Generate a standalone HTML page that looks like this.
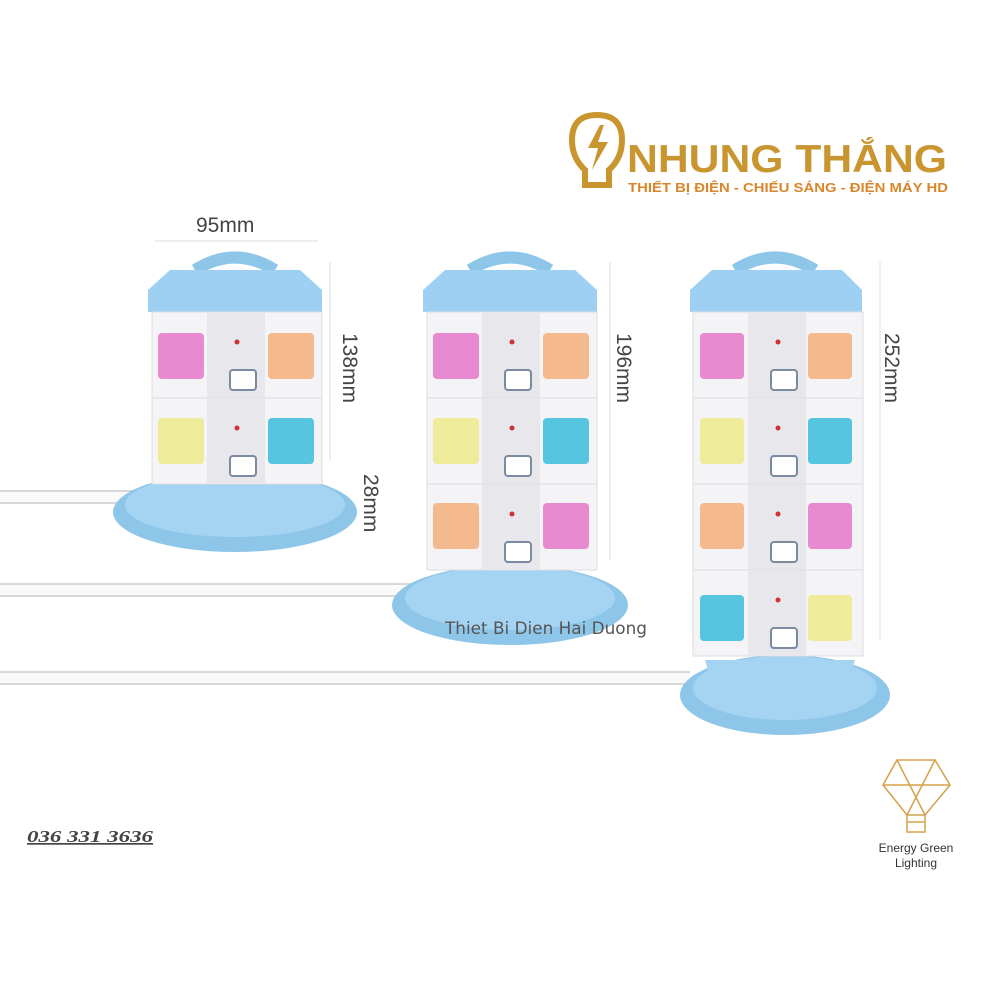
<!DOCTYPE html>
<html><head><meta charset="utf-8"><style>
html,body{margin:0;padding:0;background:#fff;}
svg{display:block;}
</style></head><body>
<svg width="983" height="983" viewBox="0 0 983 983" xmlns="http://www.w3.org/2000/svg" font-family="Liberation Sans, DejaVu Sans, sans-serif">
<rect width="983" height="983" fill="#fff"/>
<g fill="none" stroke="#c9952f" stroke-width="6">
<path d="M597 185 L585 185 L585 170 Q572 158 572 140 Q572 115 597 115 Q622 115 622 140 Q622 158 609 170 L609 185 Z"/>
</g>
<path d="M600 125 L588 148 L598 148 L592 170 L608 142 L598 142 L604 125 Z" fill="#c9952f"/>
<text x="627" y="172" font-size="39" font-weight="bold" fill="#c9952f" textLength="320" lengthAdjust="spacingAndGlyphs">NHUNG THẮNG</text>
<text x="628" y="192" font-size="13" font-weight="bold" fill="#d9862a" textLength="320" lengthAdjust="spacingAndGlyphs">THIẾT BỊ ĐIỆN - CHIẾU SÁNG - ĐIỆN MÁY HD</text>
<text x="196" y="232" font-size="21" fill="#444">95mm</text>
<line x1="155" y1="241" x2="318" y2="241" stroke="#ddd"/>
<line x1="330" y1="262" x2="330" y2="460" stroke="#ddd"/>
<text transform="translate(343,333) rotate(90)" font-size="21" fill="#444">138mm</text>
<text transform="translate(364,474) rotate(90)" font-size="21" fill="#444">28mm</text>
<line x1="610" y1="262" x2="610" y2="560" stroke="#ddd"/>
<text transform="translate(617,333) rotate(90)" font-size="21" fill="#444">196mm</text>
<line x1="880" y1="262" x2="880" y2="640" stroke="#ddd"/>
<text transform="translate(885,333) rotate(90)" font-size="21" fill="#444">252mm</text>
<g stroke-linecap="butt">
<line x1="0" y1="497" x2="170" y2="497" stroke="#d8d8d8" stroke-width="14"/>
<line x1="0" y1="497" x2="170" y2="497" stroke="#fafafa" stroke-width="10"/>
<line x1="0" y1="590" x2="420" y2="590" stroke="#d8d8d8" stroke-width="14"/>
<line x1="0" y1="590" x2="420" y2="590" stroke="#fafafa" stroke-width="10"/>
<line x1="0" y1="678" x2="690" y2="678" stroke="#d8d8d8" stroke-width="14"/>
<line x1="0" y1="678" x2="690" y2="678" stroke="#fafafa" stroke-width="10"/>
</g>
<defs>
<g id="row">
<rect x="0" y="0" width="170" height="86" fill="#f4f4f6" stroke="#ddd"/>
<rect x="55" y="0" width="58" height="86" fill="#e8e8ec"/>
<rect x="78" y="58" width="26" height="20" rx="3" fill="#fff" stroke="#7a8aa0" stroke-width="2"/>
<circle cx="85" cy="30" r="2.5" fill="#c33"/>
</g>
</defs>
<ellipse cx="235" cy="512" rx="122" ry="40" fill="#8ec6ea"/>
<ellipse cx="235" cy="505" rx="110" ry="32" fill="#a5d4f2"/>
<path d="M195 270 Q235 245 275 270" stroke="#8ec6ea" stroke-width="12" fill="none"/>
<path d="M148 290 L170 270 L300 270 L322 290 L322 312 L148 312 Z" fill="#9dd0f2"/>
<use href="#row" x="152" y="312"/>
<use href="#row" x="152" y="398"/>
<rect x="158" y="333" width="46" height="46" rx="4" fill="#e88ad0"/>
<rect x="268" y="333" width="46" height="46" rx="4" fill="#f5b98e"/>
<rect x="158" y="418" width="46" height="46" rx="4" fill="#eeeb9a"/>
<rect x="268" y="418" width="46" height="46" rx="4" fill="#55c5e0"/>
<path d="M160 490 L310 490 L300 520 L170 520 Z" fill="#a5d4f2"/>
<ellipse cx="510" cy="605" rx="118" ry="40" fill="#8ec6ea"/>
<ellipse cx="510" cy="598" rx="105" ry="32" fill="#a5d4f2"/>
<path d="M470 270 Q510 245 550 270" stroke="#8ec6ea" stroke-width="12" fill="none"/>
<path d="M423 290 L445 270 L575 270 L597 290 L597 312 L423 312 Z" fill="#9dd0f2"/>
<use href="#row" x="427" y="312"/>
<use href="#row" x="427" y="398"/>
<use href="#row" x="427" y="484"/>
<rect x="433" y="333" width="46" height="46" rx="4" fill="#e88ad0"/>
<rect x="543" y="333" width="46" height="46" rx="4" fill="#f5b98e"/>
<rect x="433" y="418" width="46" height="46" rx="4" fill="#eeeb9a"/>
<rect x="543" y="418" width="46" height="46" rx="4" fill="#55c5e0"/>
<rect x="433" y="503" width="46" height="46" rx="4" fill="#f5b98e"/>
<rect x="543" y="503" width="46" height="46" rx="4" fill="#e88ad0"/>
<path d="M435 575 L585 575 L575 610 L445 610 Z" fill="#a5d4f2"/>
<ellipse cx="785" cy="695" rx="105" ry="40" fill="#8ec6ea"/>
<ellipse cx="785" cy="688" rx="92" ry="32" fill="#a5d4f2"/>
<path d="M735 270 Q775 245 815 270" stroke="#8ec6ea" stroke-width="12" fill="none"/>
<path d="M690 290 L712 270 L842 270 L862 290 L862 312 L690 312 Z" fill="#9dd0f2"/>
<use href="#row" x="693" y="312"/>
<use href="#row" x="693" y="398"/>
<use href="#row" x="693" y="484"/>
<use href="#row" x="693" y="570"/>
<rect x="700" y="333" width="44" height="46" rx="4" fill="#e88ad0"/>
<rect x="808" y="333" width="44" height="46" rx="4" fill="#f5b98e"/>
<rect x="700" y="418" width="44" height="46" rx="4" fill="#eeeb9a"/>
<rect x="808" y="418" width="44" height="46" rx="4" fill="#55c5e0"/>
<rect x="700" y="503" width="44" height="46" rx="4" fill="#f5b98e"/>
<rect x="808" y="503" width="44" height="46" rx="4" fill="#e88ad0"/>
<rect x="700" y="595" width="44" height="46" rx="4" fill="#55c5e0"/>
<rect x="808" y="595" width="44" height="46" rx="4" fill="#eeeb9a"/>
<path d="M705 660 L855 660 L845 695 L715 695 Z" fill="#a5d4f2"/>
<text x="445" y="634" font-size="17" fill="#555" font-family="DejaVu Sans Condensed, sans-serif" textLength="202" lengthAdjust="spacingAndGlyphs">Thiet Bi Dien Hai Duong</text>
<text x="27" y="842" font-size="17" font-style="italic" font-weight="bold" fill="#444" font-family="Liberation Serif, serif" text-decoration="underline" textLength="126" lengthAdjust="spacingAndGlyphs">036 331 3636</text>
<g fill="none" stroke="#d6a04a" stroke-width="1.5">
<path d="M897 760 L935 760 L950 785 L925 815 L907 815 L883 785 Z"/>
<path d="M897 760 L925 815 M935 760 L907 815 M883 785 L950 785"/>
<path d="M907 815 L907 832 L925 832 L925 815 M907 822 L925 822"/>
</g>
<text x="916" y="852" font-size="12" fill="#333" text-anchor="middle">Energy Green</text>
<text x="916" y="867" font-size="12" fill="#333" text-anchor="middle">Lighting</text>
</svg>
</body></html>
